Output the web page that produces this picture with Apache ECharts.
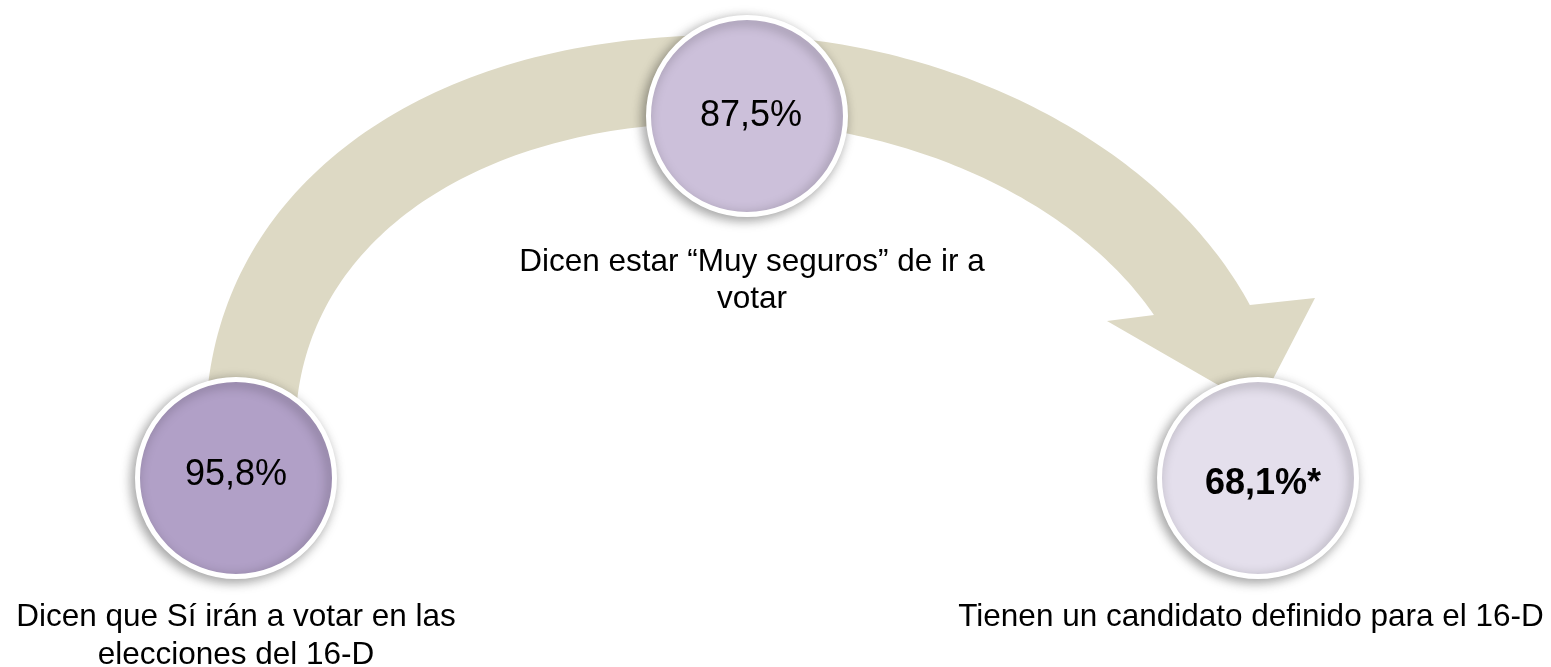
<!DOCTYPE html>
<html>
<head>
<meta charset="utf-8">
<script src="https://cdn.jsdelivr.net/npm/echarts@6/dist/echarts.min.js"></script>
<style>
html,body{margin:0;padding:0;background:#ffffff;}
#chart{width:1551px;height:667px;}
</style>
</head>
<body>
<div id="chart"></div>
<script>
// ---- data ----
const categories = [
  'Dicen que Sí irán a votar en las\nelecciones del 16-D',
  'Dicen estar “Muy seguros” de ir a\nvotar',
  'Tienen un candidato definido para el 16-D'
];
const values = [95.8, 87.5, 68.1];
const valueSuffix = ['%', '%', '%*'];

// ---- layout / style (not data) ----
const circleColors = ['#B1A0C7', '#CCC0DA', '#E4DFEC'];
const valueBold = [false, false, true];
const circlePos = [[236, 478], [747, 116], [1258, 478]];
const valueOffset = [[0, -3], [4, 0], [5, 6]];
const labelPos = [[236, 636], [752, 281], [1251, 617]];
const labelLineHeight = [38, 37, 38];
// curved band: superellipse halves around a common centre
const arcCentre = [735, 440];
const outerArc = {b: 405, aLeft: 530, nLeft: 2.2, aRight: 552, nRight: 1.9, yStart: 430, yEnd: 305};
const innerArc = {b: 318, aLeft: 440, nLeft: 2.2, aRight: 462, nRight: 1.9, yStart: 430, yEnd: 315};
const arrowHead = [[1315, 298], [1258, 408], [1107, 321]];

const FONT = '"Liberation Sans", Arial, Helvetica, sans-serif';

function fmt(v, i) {
  return v.toFixed(1).replace('.', ',') + valueSuffix[i];
}

// point on superellipse quarter: theta 0 = side, pi/2 = top
function sePoint(a, b, n, theta, side) {
  const c = Math.max(0, Math.cos(theta)), s = Math.max(0, Math.sin(theta));
  return [arcCentre[0] + side * a * Math.pow(c, 2 / n), arcCentre[1] - b * Math.pow(s, 2 / n)];
}
function thetaForY(b, n, y) {
  const Y = arcCentre[1] - y;
  return Math.asin(Math.min(1, Math.pow(Y / b, n / 2)));
}
function edge(arc, leftToRight) {
  const pts = [];
  const N = 80;
  const tL = thetaForY(arc.b, arc.nLeft, arc.yStart);
  const tR = thetaForY(arc.b, arc.nRight, arc.yEnd);
  for (let i = 0; i <= N; i++) {
    const t = tL + (Math.PI / 2 - tL) * i / N;
    pts.push(sePoint(arc.aLeft, arc.b, arc.nLeft, t, -1));
  }
  for (let i = 1; i <= N; i++) {
    const t = Math.PI / 2 - (Math.PI / 2 - tR) * i / N;
    pts.push(sePoint(arc.aRight, arc.b, arc.nRight, t, 1));
  }
  return leftToRight ? pts : pts.reverse();
}

const chart = echarts.init(document.getElementById('chart'), null, {renderer: 'canvas'});

const option = {
  animation: false,
  backgroundColor: '#ffffff',
  grid: {left: 0, right: 0, top: 0, bottom: 0},
  xAxis: {type: 'value', min: 0, max: 1551, show: false},
  yAxis: {type: 'value', min: 0, max: 667, inverse: true, show: false},
  series: [
    {
      type: 'custom',
      coordinateSystem: 'cartesian2d',
      clip: false,
      silent: true,
      z: 1,
      data: [[0, 0]],
      renderItem: function (params, api) {
        const pts = edge(outerArc, true)
          .concat(arrowHead)
          .concat(edge(innerArc, false))
          .map(p => api.coord(p));
        return {
          type: 'polygon',
          shape: {points: pts},
          style: {fill: '#DDD9C4', stroke: null}
        };
      }
    },
    {
      type: 'scatter',
      z: 3,
      silent: true,
      symbol: 'circle',
      symbolSize: 197,
      data: values.map((v, i) => ({
        value: [circlePos[i][0], circlePos[i][1], v],
        itemStyle: {
          color: circleColors[i],
          opacity: 1,
          borderColor: '#ffffff',
          borderWidth: 5,
          shadowBlur: 12,
          shadowColor: 'rgba(0,0,0,0.35)',
          shadowOffsetX: -3,
          shadowOffsetY: 3
        },
        label: {
          show: true,
          position: 'inside',
          offset: valueOffset[i],
          formatter: fmt(v, i),
          fontSize: 36,
          fontWeight: valueBold[i] ? 'bold' : 'normal',
          fontFamily: FONT,
          color: '#000000'
        }
      }))
    },
    {
      type: 'scatter',
      z: 4,
      silent: true,
      symbolSize: 1,
      itemStyle: {color: 'rgba(255,255,255,0)', opacity: 1},
      data: categories.map((c, i) => ({
        value: [labelPos[i][0], labelPos[i][1]],
        label: {
          show: true,
          position: 'inside',
          formatter: c,
          align: 'center',
          verticalAlign: 'middle',
          fontSize: 31.5,
          lineHeight: labelLineHeight[i],
          fontFamily: FONT,
          color: '#000000'
        }
      }))
    }
  ]
};
chart.setOption(option);
</script>
</body>
</html>
